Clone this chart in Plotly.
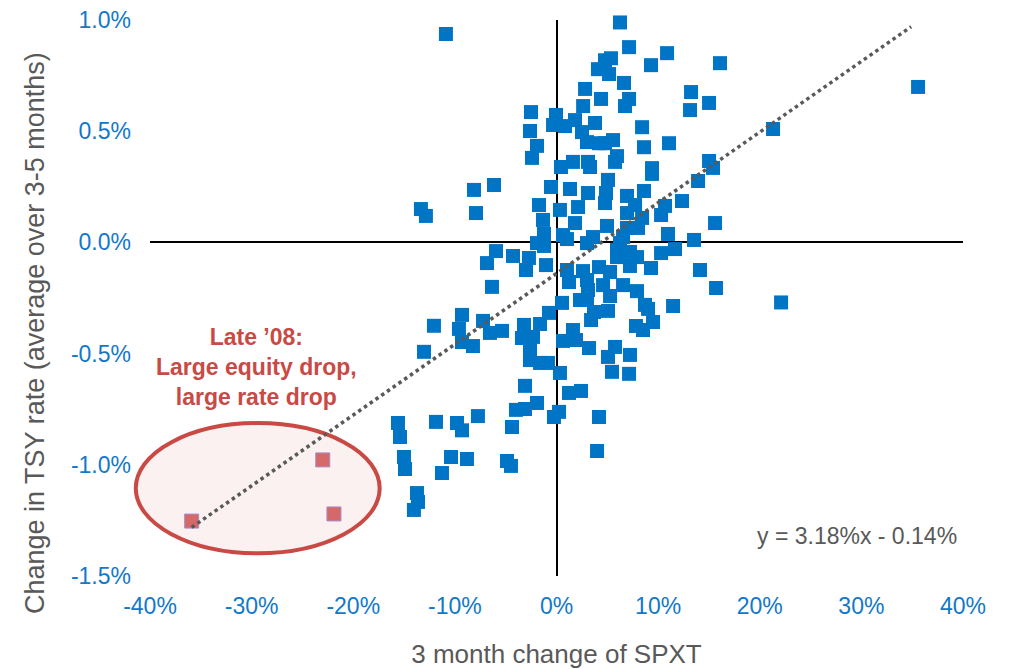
import plotly.graph_objects as go

# 3-month change of SPXT (%) and change in TSY rate (%)
spx_change = [
    -10.88, 6.25, 7.14, 5.36, 4.77, 4.08, 5.17, 9.30, 10.88, 16.09,
    2.81, 4.38, 6.64, 7.14, 6.74, 2.62, 13.24, 15.01, 13.14, -2.51,
    -0.05, -0.34, 0.84, 1.82, -2.61, -1.92, -2.41, 2.51, 3.00, 3.79,
    0.44, 1.62, 3.10, 4.18, 8.42, 11.07, 8.61, 5.56, 4.77, 5.95,
    15.01, 9.40, 21.31, 3.30, 35.58,
    -8.12, -6.15, -13.34, -12.85, -7.92, -0.54, -1.72, 1.33, 3.10, 0.34,
    2.12, 1.82, -1.33, -1.23, 0.64, 1.03, -1.92, -1.23, 3.59, 3.00,
    -5.95, -6.84, -4.28, -2.71, -3.00, -1.03, 1.03, 2.61, 1.23, 3.00,
    -6.35,
    5.07, 9.40, 5.76, 15.40, 13.93, 4.87, 6.94, 8.61, 4.77, 12.35,
    7.73, 10.68, 10.29, 6.94, 8.42, 4.97, 15.60, 6.94, 8.02, 6.55,
    10.97, 6.25, 13.53, 11.66, 10.29, 5.95, 7.23, 7.92, 5.95, 7.23,
    9.30, 4.18, 5.27, 14.12, 4.58, 6.55, 15.70,
    -9.30, -12.06, -7.23, -9.60, -5.36, -6.55, -3.20, -1.62, -0.74, 0.54,
    2.31, 3.10, 3.69, 3.40, -9.30, -8.22, -3.40, -2.31, -2.61, -2.61,
    -1.62, -0.84, 1.62, 1.92, 0.64, 3.20, -13.04, 0.34, -3.10, 1.23,
    2.41, -1.92, -3.99, -3.10, -0.25, 0.25, -7.73, -11.86, -9.79, -15.60,
    -4.38, 4.18,
    7.92, 5.27, 3.00, 8.71, 9.01, 5.07, 11.47, 22.10, 7.82, 9.50,
    8.51, 5.76, 5.07, 7.23, 5.46, 7.14,
    -15.40, -9.30, -15.01, -14.91, -10.38, -8.81, -11.27, -4.87, -4.48, 3.99,
    -13.73, -13.63, -14.03,
]
tsy_change = [
    0.937, 0.989, 0.878, 0.828, 0.819, 0.779, 0.757, 0.797, 0.851, 0.806,
    0.690, 0.645, 0.717, 0.645, 0.613, 0.613, 0.676, 0.627, 0.595, 0.586,
    0.573, 0.528, 0.523, 0.550, 0.501, 0.434, 0.380, 0.496, 0.451, 0.537,
    0.339, 0.362, 0.362, 0.446, 0.518, 0.446, 0.428, 0.460, 0.446, 0.388,
    0.366, 0.334, 0.510, 0.339, 0.699,
    0.236, 0.258, 0.150, 0.119, 0.132, 0.249, 0.168, 0.240, 0.222, 0.146,
    0.159, 0.087, 0.101, 0.038, 0.033, 0.015, -0.003, -0.016, 0.024, -0.003,
    -0.039, -0.093, -0.061, -0.070, -0.124, -0.102, -0.124, -0.129, -0.178, -0.169,
    -0.200,
    0.281, 0.308, 0.362, 0.335, 0.276, 0.222, 0.209, 0.231, 0.177, 0.186,
    0.168, 0.164, 0.123, 0.132, 0.110, 0.074, 0.087, 0.065, 0.065, 0.024,
    0.038, -0.003, 0.011, -0.030, -0.048, -0.034, -0.043, -0.066, -0.066, -0.106,
    -0.115, -0.111, -0.133, -0.124, -0.192, -0.192, -0.205,
    -0.326, -0.375, -0.353, -0.389, -0.398, -0.407, -0.371, -0.367, -0.317, -0.272,
    -0.259, -0.214, -0.313, -0.349, -0.448, -0.466, -0.430, -0.425, -0.484, -0.529,
    -0.542, -0.542, -0.394, -0.439, -0.443, -0.475, -0.492, -0.587, -0.645, -0.677,
    -0.668, -0.722, -0.753, -0.749, -0.785, -0.762, -0.781, -0.807, -0.812, -0.812,
    -0.830, -0.785,
    -0.219, -0.241, -0.259, -0.281, -0.299, -0.308, -0.286, -0.270, -0.376, -0.358,
    -0.394, -0.470, -0.515, -0.506, -0.582, -0.591,
    -0.875, -0.845, -0.965, -1.019, -0.965, -0.974, -1.037, -0.983, -1.005, -0.938,
    -1.127, -1.167, -1.203,
]

# Late 2008 highlighted observations
late08_spx = [-35.9, -23.0, -21.9]
late08_tsy = [-1.253, -0.978, -1.221]

# Linear trendline y = 3.18%x - 0.14%
slope = 0.0318
intercept = -0.14
all_x = spx_change + late08_spx
trend_x = [min(all_x), 34.9]
trend_y = [slope * v + intercept for v in trend_x]

x_ticks = [-40, -30, -20, -10, 0, 10, 20, 30, 40]
y_ticks = [-1.5, -1.0, -0.5, 0.0, 0.5, 1.0]

tick_color = "#1278C8"
gray = "#595959"
font_family = "Liberation Sans, Arial, sans-serif"

fig = go.Figure()

# highlight ellipse (behind points)
fig.add_shape(
    type="circle", xref="x domain", yref="y domain",
    x0=-0.0175, x1=0.2825, y0=0.041, y1=0.275,
    line=dict(color="#C94A45", width=4), fillcolor="#FBF1F1", layer="below",
)

fig.add_trace(go.Scatter(
    x=spx_change, y=tsy_change, mode="markers", cliponaxis=False,
    marker=dict(symbol="square", size=14, color="#0074C5", line=dict(width=0)),
    showlegend=False, hoverinfo="x+y",
))
fig.add_trace(go.Scatter(
    x=late08_spx, y=late08_tsy, mode="markers", cliponaxis=False,
    marker=dict(symbol="square", size=14, color="#D5696A", line=dict(width=1, color="#A98BC8")),
    showlegend=False,
))
fig.add_trace(go.Scatter(
    x=trend_x, y=trend_y, mode="lines",
    line=dict(color=gray, width=3.5, dash="dot"),
    showlegend=False, hoverinfo="skip",
))

fig.add_annotation(
    x=-29.5, y=-0.56, xref="x", yref="y",
    text="<b>Late ’08:<br>Large equity drop,<br>large rate drop</b>",
    showarrow=False, align="center",
    font=dict(family=font_family, size=23, color="#C94A45"),
)
fig.add_annotation(
    x=39.6, y=-1.32, xref="x", yref="y", xanchor="right",
    text="y = 3.18%x - 0.14%", showarrow=False,
    font=dict(family=font_family, size=23, color=gray),
)
# y-axis title (placed as rotated text, centred like the reference)
fig.add_annotation(
    x=-0.1415, y=0.437, xref="paper", yref="paper",
    xanchor="center", yanchor="middle", textangle=-90,
    text="Change in TSY rate (average over 3-5 months)", showarrow=False,
    font=dict(family=font_family, size=27, color=gray),
)

fig.update_xaxes(
    range=[-40, 40], tickvals=x_ticks,
    ticktext=[f"{v}%" for v in x_ticks],
    showgrid=False, showline=False, ticks="", automargin=False,
    ticklabelstandoff=14, ticklabeloverflow="allow",
    zeroline=True, zerolinecolor="black", zerolinewidth=2,
    tickfont=dict(family=font_family, size=23, color=tick_color),
    title=dict(text="3 month change of SPXT", standoff=26,
               font=dict(family=font_family, size=26, color=gray)),
)
fig.update_yaxes(
    range=[-1.5, 1.0], tickvals=y_ticks,
    ticktext=[f"{v:.1f}%" for v in y_ticks],
    showgrid=False, showline=False, ticks="", automargin=False,
    ticklabelstandoff=18, ticklabeloverflow="allow",
    zeroline=True, zerolinecolor="black", zerolinewidth=2,
    tickfont=dict(family=font_family, size=23, color=tick_color),
)

fig.update_layout(
    width=1004, height=661,
    margin=dict(l=142, r=49, t=12, b=93),
    plot_bgcolor="white", paper_bgcolor="white",
    font=dict(family=font_family),
)

fig.write_html("out.html")
